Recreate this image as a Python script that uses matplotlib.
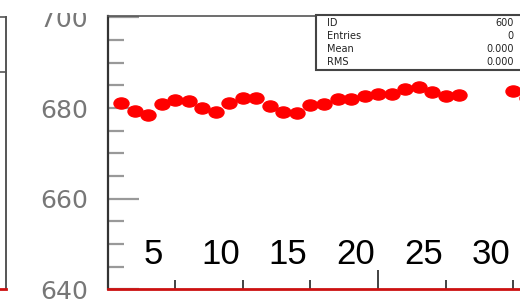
import numpy as np
import matplotlib
matplotlib.use("Agg")
import matplotlib.pyplot as plt
from matplotlib.path import Path
from matplotlib.transforms import Affine2D
from matplotlib.patches import Rectangle
from matplotlib.lines import Line2D

# data (bins 27-29 empty)
bins = list(range(1, 32))
values = [681.0, 679.3, 678.5, 680.8, 681.8, 681.6, 680.0, 679.1, 681.1, 682.3,
          682.3, 680.5, 679.1, 678.8, 680.6, 680.8, 681.9, 682.0, 682.6, 683.1,
          683.2, 684.1, 684.7, 683.5, 682.7, 682.8, None, None, None, 683.7,
          682.1]
y_ticks = [640, 660, 680, 700]
y_minor = [645, 650, 655, 665, 670, 675, 685, 690, 695]
x_labels = ["5", "10", "15", "20", "25", "30"]
x_label_pos = [5, 10, 15, 20, 25, 30]
stat_names = ["ID", "Entries", "Mean", "RMS"]
stat_values = ["600", "0", "0.000", "0.000"]

W, H = 520, 301
fig = plt.figure(figsize=(W / 100, H / 100), dpi=100)


def fx(px):
    return px / W


def fy(py):
    return 1 - py / H


# main panel, right side runs past the picture edge
ax = fig.add_axes([fx(107.5), fy(289.3), (540.5 - 107.5) / W, (289.3 - 16) / H])
ax.set_xlim(0, 32)
ax.set_ylim(640, 700.3)

ellipse = Path.unit_circle().transformed(Affine2D().scale(1.35, 1.0))
yv = np.array([np.nan if v is None else v for v in values])
ax.plot(bins, yv, linestyle="none", marker=ellipse, ms=10.8,
        color="#ff0000", mec="#ff0000", zorder=3)

ax.spines["right"].set_visible(False)
ax.spines["left"].set_color("#333333")
ax.spines["left"].set_linewidth(1.6)
ax.spines["top"].set_color("#555555")
ax.spines["top"].set_linewidth(1.2)
ax.spines["bottom"].set_color("#cc1111")
ax.spines["bottom"].set_linewidth(2.0)

ax.set_yticks(y_ticks)
ax.set_yticks(y_minor, minor=True)
ax.set_yticklabels([str(t) for t in y_ticks])
ax.tick_params(axis="y", which="major", direction="in", length=22, width=1.6,
               color="#999999", pad=14, labelsize=18, labelcolor="#777777")
ax.tick_params(axis="y", which="minor", direction="in", length=11.5, width=1.6,
               color="#999999")

ax.set_xticks([20])
ax.set_xticks([5, 10, 15, 25, 30], minor=True)
ax.set_xticklabels([])
ax.tick_params(axis="x", which="major", direction="in", length=13.7, width=1.2,
               color="#222222")
ax.tick_params(axis="x", which="minor", direction="in", length=6.5, width=1.2,
               color="#222222")

trans = ax.get_xaxis_transform()
for pos, lab in zip(x_label_pos, x_labels):
    ax.text(pos - 1.65, 0.128, lab, transform=trans, ha="center", va="center",
            fontsize=25, family="Liberation Sans", color="black")

# stats box in the top right corner
fig.add_artist(Rectangle((fx(316), fy(70)), (530 - 316) / W, (70 - 15) / H,
                         transform=fig.transFigure, facecolor="white",
                         edgecolor="#444444", linewidth=1.5, zorder=5))
for i, (n, v) in enumerate(zip(stat_names, stat_values)):
    yy = fy(23.5 + i * 12.7)
    fig.text(fx(327), yy, n, ha="left", va="center", fontsize=7,
             color="#222222", zorder=6)
    fig.text(fx(514), yy, v, ha="right", va="center", fontsize=7,
             color="#222222", zorder=6)

# edge of the neighbouring panel on the left
fig.add_artist(Line2D([fx(0), fx(5.5)], [fy(17), fy(17)], color="#555555", lw=1.2))
fig.add_artist(Line2D([fx(0), fx(5.5)], [fy(72), fy(72)], color="#555555", lw=1.2))
fig.add_artist(Line2D([fx(5.5), fx(5.5)], [fy(17), fy(288.5)], color="#555555", lw=1.4))
fig.add_artist(Line2D([fx(0), fx(5.5)], [fy(288.5), fy(288.5)], color="#cc1111", lw=2))

# the picture is cut just above the 700 label
fig.add_artist(Rectangle((fx(10), fy(13)), 95 / W, 13 / H, transform=fig.transFigure,
                         facecolor="white", edgecolor="none", zorder=10))

fig.savefig("out.png", dpi=100, facecolor="white")
